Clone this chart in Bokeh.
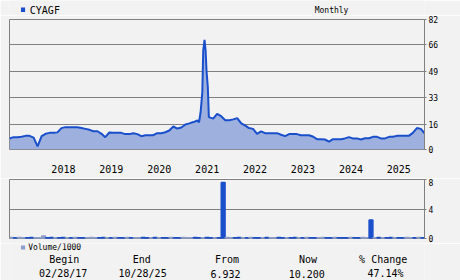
import pandas as pd
from bokeh.plotting import figure
from bokeh.layouts import column
from bokeh.models import Range1d, FixedTicker, DatetimeTickFormatter
from bokeh.core.properties import value
from bokeh.embed import file_html
from bokeh.resources import INLINE

symbol = "CYAGF"
period = "Monthly"
stat_heads = ["Begin", "End", "From", "Now", "% Change"]
stat_vals = ["02/28/17", "10/28/25", "6.932", "10.200", "47.14%"]
price_ticks = [0, 16, 33, 49, 66, 82]
volume_ticks = [0, 4, 8]

# monthly closes Feb 2017 .. Jan 2021
price_a = [6.93, 7.8, 7.8, 8.0, 8.6, 8.6, 7.5, 2.0, 8.4, 9.9, 10.5, 10.5,
           10.8, 13.5, 14.1, 14.1, 14.1, 14.0, 13.5, 13.0, 12.4, 11.5, 11.5, 9.9,
           7.8, 10.7, 10.5, 10.5, 10.5, 9.7, 9.7, 10.3, 9.7, 8.4, 9.0, 9.0,
           9.0, 10.3, 10.3, 10.9, 12.0, 14.5, 13.2, 13.9, 15.8, 16.5, 17.3, 18.3]
# spike Feb-Apr 2021
spike_dates = ["2021-02-12", "2021-02-24", "2021-03-09", "2021-03-16", "2021-03-26",
               "2021-04-03", "2021-04-10", "2021-04-20", "2021-04-28"]
spike_price = [17.2, 23.5, 36.0, 62.5, 69.2, 62.5, 49.8, 39.3, 20.4]
# monthly closes May 2021 .. Sep 2025
price_b = [19.5, 22.5, 21.0, 18.5, 18.5, 19.0, 19.8, 16.5, 15.1, 13.5, 13.0, 9.9,
           11.4, 10.3, 10.3, 10.3, 10.3, 9.3, 8.4, 9.7, 9.7, 9.7, 9.0, 9.0,
           9.0, 8.2, 6.5, 6.5, 6.3, 5.0, 6.5, 6.5, 6.5, 7.0, 7.8, 7.0,
           7.0, 6.3, 7.1, 7.1, 8.0, 8.0, 7.0, 7.0, 8.0, 8.0, 8.6, 8.6,
           8.6, 8.6, 10.5, 13.5, 13.0]
last_date, last_price = "2025-10-28", 10.2

# monthly volume / 1000, Feb 2017 .. Oct 2025
volume = [0.15, 0.1, 0.15, 0.1, 0.1, 0.15, 0.1, 0.1, 0.35, 0.1, 0.15, 0.1,
          0.1, 0.15, 0.1, 0.1, 0.15, 0.1, 0.1, 0.1, 0.15, 0.1, 0.1, 0.15,
          0.1, 0.1, 0.15, 0.1, 0.1, 0.15, 0.1, 0.1, 0.1, 0.15, 0.1, 0.1,
          0.15, 0.1, 0.1, 0.1, 0.15, 0.1, 0.1, 0.15, 0.1, 0.1, 0.15, 0.1,
          0.1, 0.15, 0.1, 0.1, 0.1, 7.6, 0.15, 0.1, 0.1, 0.15, 0.1, 0.1,
          0.15, 0.1, 0.1, 0.1, 0.15, 0.1, 0.1, 0.15, 0.1, 0.1, 0.1, 0.15,
          0.1, 0.1, 0.15, 0.1, 0.1, 0.1, 0.15, 0.1, 0.1, 0.15, 0.1, 0.1,
          0.1, 0.15, 0.1, 0.1, 0.15, 0.1, 2.5, 0.1, 0.15, 0.1, 0.1, 0.15,
          0.1, 0.1, 0.1, 0.15, 0.1, 0.1, 0.15, 0.1, 0.1]
vol_up = "dbddbbdddbbdbbdbdbbdddbbdbdbbdbddbbdbdbbdbbdddbbdbbdbbddbbdbdbbdbddbbdbbdbdbbddbbdbbbdbbddbdbdbbdbbddbdbbd"

price_dates = (list(pd.date_range("2017-02-28", periods=len(price_a), freq="ME"))
               + [pd.Timestamp(d) for d in spike_dates]
               + list(pd.date_range("2021-05-31", periods=len(price_b), freq="ME"))
               + [pd.Timestamp(last_date)])
prices = price_a + spike_price + price_b + [last_price]
vol_dates = [d + pd.Timedelta(days=15) for d in pd.date_range("2017-02-28", periods=len(volume), freq="ME")]

BG = "#f2f2f2"
GRID = "#808080"
LINE = "#1a4fcc"
FILL = "#9eb0dd"
VGRAY = "#8c9dcb"
FONT = "DejaVu Sans Mono"
W = 460


def strip(height, top_px):
    f = figure(width=W, height=height, x_range=Range1d(0, W),
               y_range=Range1d(top_px + height, top_px), x_axis_location=None,
               y_axis_location=None, output_backend="svg", toolbar_location=None,
               min_border=0)
    f.background_fill_color = BG
    f.border_fill_color = BG
    f.outline_line_color = None
    f.grid.visible = False
    return f


def txt(f, x, y, s, size, align):
    f.text(x=[x], y=[y], text=[s], text_font=value(FONT), text_font_size=value(size),
           text_align=align, text_baseline="middle", text_color="black")


def style_yaxis(p):
    p.yaxis.axis_line_color = GRID
    p.yaxis.major_tick_line_color = GRID
    p.yaxis.major_tick_out = 2
    p.yaxis.major_tick_in = 0
    p.yaxis.minor_tick_line_color = None
    p.yaxis.major_label_standoff = 2
    p.yaxis.major_label_text_font = FONT
    p.yaxis.major_label_text_font_size = "8px"
    p.yaxis.major_label_text_color = "black"


# --- header strip (page y 0..15)
top = strip(15, 0)
top.rect(x=[15], y=[9.2], width=4.6, height=4.6, fill_color=LINE, line_color=None)
txt(top, 22.5, 9.5, symbol, "10px", "left")
txt(top, 357, 9.5, period, "8px", "center")

# --- price panel (page y 15..178), frame 19..149
x_start = pd.Timestamp("2017-02-28")
x_end = pd.Timestamp("2025-10-28")
xr = Range1d(x_start, x_end)

p1 = figure(width=W, height=163, x_axis_type="datetime", x_range=xr, y_range=Range1d(0, 82),
            y_axis_location="right", output_backend="svg", toolbar_location=None,
            min_border_left=9, min_border_right=36, min_border_top=4, min_border_bottom=29)
p1.background_fill_color = BG
p1.border_fill_color = BG
p1.outline_line_color = GRID
p1.xgrid.visible = False
p1.ygrid.grid_line_color = GRID
p1.ygrid.ticker = FixedTicker(ticks=price_ticks)
p1.yaxis.ticker = FixedTicker(ticks=price_ticks)
style_yaxis(p1)

year_ticks = [pd.Timestamp(f"{y}-04-15").value // 10**6 for y in range(2018, 2026)]
p1.xaxis.ticker = FixedTicker(ticks=year_ticks)
p1.xaxis.formatter = DatetimeTickFormatter(years="%Y", months="%Y", days="%Y")
p1.xaxis.axis_line_color = None
p1.xaxis.major_tick_line_color = None
p1.xaxis.minor_tick_line_color = None
p1.xaxis.major_tick_out = 0
p1.xaxis.major_label_standoff = 15
p1.xaxis.major_label_text_font = FONT
p1.xaxis.major_label_text_font_size = "10px"
p1.xaxis.major_label_text_color = "black"

p1.varea(x=price_dates, y1=0, y2=prices, fill_color=FILL)
p1.line(x=price_dates, y=prices, line_color=LINE, line_width=2)

# --- volume panel (page y 178..243), frame 179..238
p2 = figure(width=W, height=65, x_axis_type="datetime", x_range=xr, y_range=Range1d(0, 8),
            y_axis_location="right", x_axis_location=None, output_backend="svg",
            toolbar_location=None, min_border_left=9, min_border_right=36,
            min_border_top=1, min_border_bottom=5)
p2.background_fill_color = BG
p2.border_fill_color = BG
p2.outline_line_color = GRID
p2.xgrid.visible = False
p2.ygrid.grid_line_color = GRID
p2.ygrid.ticker = FixedTicker(ticks=volume_ticks)
p2.yaxis.ticker = FixedTicker(ticks=volume_ticks)
style_yaxis(p2)

vcolors = [LINE if c == "b" else VGRAY for c in vol_up[:len(volume)]]
p2.vbar(x=vol_dates, top=volume, bottom=0, width=29 * 24 * 3600 * 1000,
        fill_color=vcolors, line_color=vcolors, line_width=1.5)

# --- footer strip (page y 243..280)
bot = strip(37, 243)
bot.rect(x=[15], y=[247], width=4.6, height=4, fill_color=VGRAY, line_color=None)
txt(bot, 20.7, 247.3, "Volume/1000", "8px", "left")
head_x = [60.7, 146.5, 241, 330.8, 414.2]
val_x = [59.5, 147.5, 239.5, 329.5, 416.8]
for h, v, hx, vx in zip(stat_heads, stat_vals, head_x, val_x):
    txt(bot, hx, 259, h, "10px", "center")
    txt(bot, vx, 273, v, "10px", "center")

layout = column(top, p1, p2, bot, spacing=0)
open("out.html", "w").write(file_html(layout, INLINE))
